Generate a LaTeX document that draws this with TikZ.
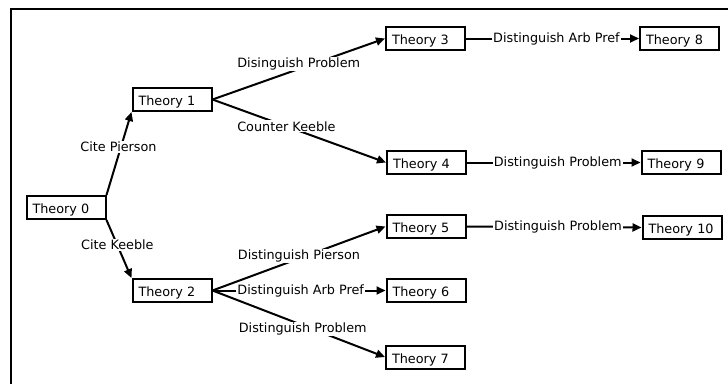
\documentclass[tikz,border=0pt]{standalone}
\usepackage{fontspec}
\setmainfont{DejaVu Sans}
\usetikzlibrary{arrows.meta}

\begin{document}
\begin{tikzpicture}[x=1pt,y=-1pt,
  theory/.style={draw,line width=2pt,rectangle,text width=67pt,inner xsep=6pt,
    minimum height=23pt,text height=12pt,text depth=0pt,align=left,
    font=\fontsize{12.8}{14}\selectfont},
  move/.style={-{Triangle[length=9pt,width=8pt]},line width=2pt},
  lbl/.style={fill=white,inner sep=1pt,font=\fontsize{12.8}{14}\selectfont}]
  % Canvas and frame
  \useasboundingbox (0,0) rectangle (728,383);
  \clip (0,0) rectangle (728,383);
  \draw[line width=2.2pt] (11.3,9) rectangle (760,420);

  % Theories
  \node[theory] (t0) at (66,207.5) {Theory 0};
  \node[theory] (t1) at (172,99.5) {Theory 1};
  \node[theory] (t2) at (172,290.5) {Theory 2};
  \node[theory] (t3) at (425.5,38.5) {Theory 3};
  \node[theory] (t4) at (426.5,162.5) {Theory 4};
  \node[theory] (t5) at (426,226.5) {Theory 5};
  \node[theory] (t6) at (426,290.5) {Theory 6};
  \node[theory] (t7) at (425.5,357) {Theory 7};
  \node[theory] (t8) at (679.5,38.5) {Theory 8};
  \node[theory] (t9) at (681,162.5) {Theory 9};
  \node[theory] (t10) at (682,227.5) {Theory 10};

  % Moves from Theory 0
  \draw[move] (t0.north east) -- node[lbl,pos=0.58,xshift=-2.5pt] {Cite Pierson} (t1.south west);
  \draw[move] (t0.south east) -- node[lbl,pos=0.433] {Cite Keeble} (t2.north west);

  % Moves from Theory 1
  \draw[move] (t1.east) -- node[lbl,pos=0.5,yshift=5pt] {Disinguish Problem} (t3.west);
  \draw[move] (t1.east) -- node[lbl,pos=0.426] {Counter Keeble} (t4.west);

  % Moves from Theory 2
  \draw[move] (t2.east) -- node[lbl,pos=0.5,yshift=2.5pt] {Distinguish Pierson} (t5.west);
  \draw[move] (t2.east) -- node[lbl,pos=0.51] {Distinguish Arb Pref} (t6.west);
  \draw[move] (t2.east) -- node[lbl,pos=0.523,yshift=-3.7pt] {Distinguish Problem} (t7.west);

  % Last column
  \draw[move] (t3.east) -- node[lbl,pos=0.523] {Distinguish Arb Pref} (t8.west);
  \draw[move] (t4.east) -- node[lbl,pos=0.523] {Distinguish Problem} (t9.west);
  \draw[move] (t5.east) -- node[lbl,pos=0.523] {Distinguish Problem} (t10.west);
\end{tikzpicture}
\end{document}
